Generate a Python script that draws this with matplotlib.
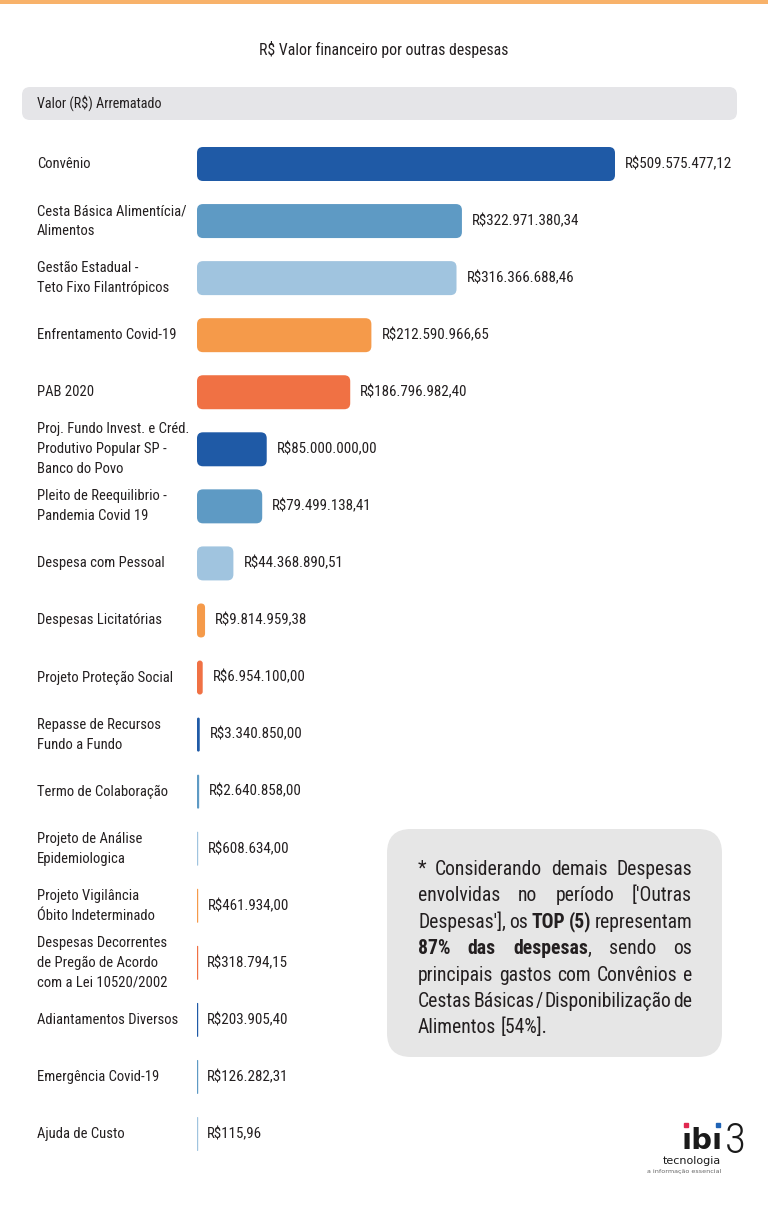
import matplotlib
matplotlib.use("Agg")
import matplotlib.pyplot as plt
from matplotlib.patches import FancyBboxPatch
from matplotlib.transforms import IdentityTransform, blended_transform_factory
from matplotlib.font_manager import FontProperties
from matplotlib import font_manager

# ---------------- data ----------------
categories = [
    "Convênio",
    "Cesta Básica Alimentícia/\nAlimentos",
    "Gestão Estadual -\nTeto Fixo Filantrópicos",
    "Enfrentamento Covid-19",
    "PAB 2020",
    "Proj. Fundo Invest. e Créd.\nProdutivo Popular SP -\nBanco do Povo",
    "Pleito de Reequilibrio -\nPandemia Covid 19",
    "Despesa com Pessoal",
    "Despesas Licitatórias",
    "Projeto Proteção Social",
    "Repasse de Recursos\nFundo a Fundo",
    "Termo de Colaboração",
    "Projeto de Análise\nEpidemiologica",
    "Projeto Vigilância\nÓbito Indeterminado",
    "Despesas Decorrentes\nde Pregão de Acordo\ncom a Lei 10520/2002",
    "Adiantamentos Diversos",
    "Emergência Covid-19",
    "Ajuda de Custo",
]
values = [
    509575477.12, 322971380.34, 316366688.46, 212590966.65, 186796982.40,
    85000000.00, 79499138.41, 44368890.51, 9814959.38, 6954100.00,
    3340850.00, 2640858.00, 608634.00, 461934.00, 318794.15,
    203905.40, 126282.31, 115.96,
]
palette = ["#1F5AA6", "#5E9AC4", "#A0C4DF", "#F59A4A", "#F07144"]

title = "R$ Valor financeiro por outras despesas"
header = "Valor (R$) Arrematado"
note_lines = [
    "* Considerando demais Despesas",
    "envolvidas no período ['Outras",
    "Despesas'], os **TOP (5)** representam",
    "**87% das despesas**, sendo os",
    "principais gastos com Convênios e",
    "Cestas Básicas / Disponibilização de",
    "Alimentos [54%].",
]

# ---------------- fonts ----------------
entries = font_manager.fontManager.ttflist
names = {f.name for f in entries}
if "Roboto Condensed" in names:
    REG = "Roboto Condensed"
elif "Archivo Narrow" in names:
    REG = "Archivo Narrow"
else:
    REG = "Liberation Sans"
has_bold = any(f.name == REG and str(f.weight) in ("700", "bold") for f in entries)
BOLD = REG if has_bold else ("IBM Plex Sans Condensed" if "IBM Plex Sans Condensed" in names else REG)
plt.rcParams["font.family"] = [REG, "DejaVu Sans"]
TXT = "#231F20"


def fmt_brl(v):
    s = f"{v:,.2f}"
    s = s.replace(",", "X").replace(".", ",").replace("X", ".")
    return "R$" + s


W, H = 768, 1209
fig = plt.figure(figsize=(W / 100, H / 100), dpi=100)
bg = fig.add_axes([0, 0, 1, 1])
bg.set_xlim(0, W)
bg.set_ylim(H, 0)
bg.axis("off")
renderer = fig.canvas.get_renderer()


def measure(s, size, bold=False, fam=None):
    fam = fam or (BOLD if bold else REG)
    t = bg.text(0, 0, s, fontsize=size, fontweight="bold" if bold else "normal",
                family=[fam, "DejaVu Sans"])
    wpx = t.get_window_extent(renderer).width
    t.remove()
    return wpx


def fit(s, target, bold=False):
    return 10 * target / measure(s, 10, bold)


FS_CAT = fit("Enfrentamento Covid-19", 139)
FS_VAL = fit("R$509.575.477,12", 108)
FS_TITLE = fit(title, 248)
FS_HEAD = fit(header, 124)
FS_NOTE = fit("Alimentos [54%].", 129)

# line spacing for 20 px baseline step
fp = FontProperties(family=[REG, "DejaVu Sans"], size=FS_CAT)
_, lp_h, lp_d = renderer.get_text_width_height_descent("lp", fp, ismath=False)
LS = (20 - lp_d) / (lp_h - lp_d)

# top orange line
bg.add_patch(plt.Rectangle((0, 0), W, 4, color="#F8B26A", lw=0))

# title
bg.text(384, 50, title, ha="center", va="center", fontsize=FS_TITLE, color=TXT)

# header bar
bg.add_patch(FancyBboxPatch((22, 87), 715, 33, boxstyle="round,pad=0,rounding_size=8",
                            facecolor="#E5E5E8", edgecolor="none"))
bg.text(37, 103.5, header, ha="left", va="center", fontsize=FS_HEAD, color=TXT)

# ---------------- bars ----------------
n = len(values)
top_c, bot_c = 164, 1134
step = (bot_c - top_c) / (n - 1)
ax_top = top_c - step / 2
ax_bot = bot_c + step / 2
x0px, x1px = 197, 615
ax = fig.add_axes([x0px / W, 1 - ax_bot / H, (x1px - x0px) / W, (ax_bot - ax_top) / H])
ax.set_xlim(0, max(values))
ax.set_ylim(n - 0.5, -0.5)
ax.axis("off")

idx = list(range(n))
cols = [palette[i % len(palette)] for i in idx]
bars = ax.barh(idx, values, height=34 / step, color=cols)

for rect, c in zip(bars, cols):
    (dx0, dy0) = ax.transData.transform((rect.get_x(), rect.get_y()))
    (dx1, dy1) = ax.transData.transform((rect.get_x() + rect.get_width(),
                                         rect.get_y() + rect.get_height()))
    w = max(dx1 - dx0, 1.2)
    h = abs(dy1 - dy0)
    r = min(6, w / 2)
    fig.patches.append(FancyBboxPatch((dx0, min(dy0, dy1)), w, h,
                                      boxstyle=f"round,pad=0,rounding_size={r}",
                                      facecolor=c, edgecolor="none",
                                      transform=IdentityTransform(), figure=fig))
    rect.set_visible(False)

lab_tr = blended_transform_factory(ax.transAxes, ax.transData)
for i, (cat, v) in enumerate(zip(categories, values)):
    ax.annotate(fmt_brl(v), xy=(v, i), xytext=(10, 0), textcoords="offset pixels",
                ha="left", va="center", fontsize=FS_VAL, color=TXT)
    ax.text((37 - x0px) / (x1px - x0px), i, cat, transform=lab_tr, ha="left",
            va="center", fontsize=FS_CAT, color=TXT, linespacing=LS)

# ---------------- note box ----------------
bg.add_patch(FancyBboxPatch((387, 829), 335, 228, boxstyle="round,pad=0,rounding_size=24",
                            facecolor="#E6E6E6", edgecolor="none"))

space_w = measure("a a", FS_NOTE) - measure("aa", FS_NOTE)
left, right = 418, 692
base0, lstep = 875, 26.4
bold = False
for li, line in enumerate(note_lines):
    words = []
    for wtxt in line.split(" "):
        parts = wtxt.split("**")
        segs = []
        for k, p in enumerate(parts):
            if k > 0:
                bold = not bold
            if p:
                segs.append((p, bold))
        words.append(segs)
    widths = [[measure(s, FS_NOTE, b) for s, b in segs] for segs in words]
    total = sum(sum(ws) for ws in widths)
    last = li == len(note_lines) - 1
    gap = space_w if last else (right - left - total) / (len(words) - 1)
    x = left
    y = base0 + li * lstep
    for segs, ws in zip(words, widths):
        for (s, b), wpx in zip(segs, ws):
            bg.text(x, y, s, fontsize=FS_NOTE, fontweight="bold" if b else "normal",
                    family=[BOLD if b else REG, "DejaVu Sans"],
                    ha="left", va="baseline", color=TXT)
            x += wpx
        x += gap

# ---------------- logo ----------------
bg.text(702.5, 1155, "ıbı", ha="center", va="bottom", fontsize=21, fontweight="bold",
        color="#1A1A1A", family=["DejaVu Sans"])
bg.plot([685.5], [1125], "s", ms=3.2, color="#E0284F")
bg.plot([717.5], [1125], "s", ms=3.2, color="#1F63B5")
bg.text(724.5, 1121, "3", ha="left", va="top", fontsize=31, color="#1A1A1A",
        family=[REG, "DejaVu Sans"], fontweight="light")
bg.text(721, 1155.5, "tecnologia", ha="right", va="top", fontsize=8, color="#1A1A1A",
        family=["DejaVu Sans"])
bg.text(721, 1171.5, "a informação essencial", ha="right", va="center", fontsize=4.6,
        color="#666666", family=["DejaVu Sans"])

fig.savefig("out.png", dpi=100)
